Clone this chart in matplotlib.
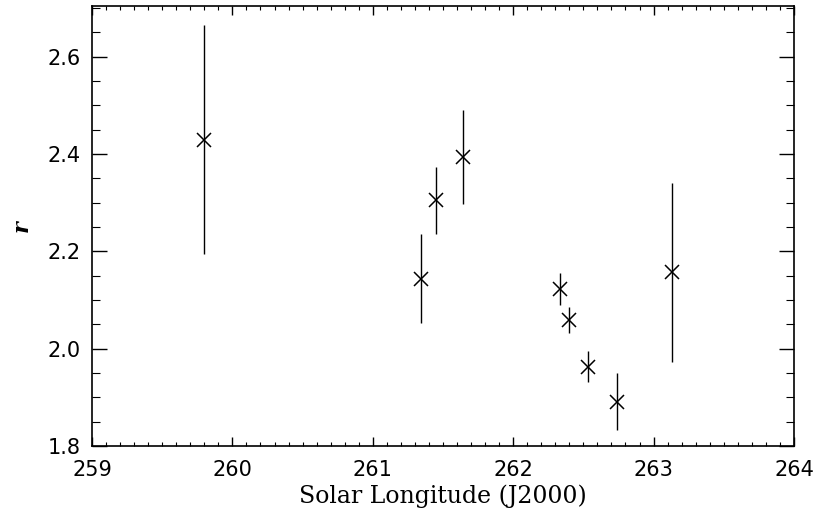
import matplotlib
matplotlib.use('Agg')
import matplotlib.pyplot as plt
from matplotlib.ticker import MultipleLocator

# values
longitude = [259.80, 261.34, 261.45, 261.64, 262.33, 262.40, 262.53, 262.74, 263.13]
r_value = [2.429, 2.144, 2.305, 2.394, 2.122, 2.059, 1.963, 1.891, 2.157]
r_error = [0.235, 0.092, 0.069, 0.097, 0.033, 0.027, 0.032, 0.058, 0.184]

fig = plt.figure(figsize=(8.17, 5.16), dpi=100)
ax = fig.add_axes([0.1126, 0.1357, 0.9718 - 0.1126, 0.9884 - 0.1357])

ax.errorbar(longitude, r_value, yerr=r_error, fmt='x', color='black',
            markersize=10, markeredgewidth=1.1, elinewidth=1.0, capsize=0)

ax.set_xlim(259, 264)
ax.set_ylim(1.8, 2.704)
ax.xaxis.set_major_locator(MultipleLocator(1))
ax.xaxis.set_minor_locator(MultipleLocator(0.1))
ax.yaxis.set_major_locator(MultipleLocator(0.2))
ax.yaxis.set_minor_locator(MultipleLocator(0.05))
ax.yaxis.set_major_formatter(plt.FormatStrFormatter('%.1f'))

ax.tick_params(axis='x', which='major', direction='in', length=6.5, width=1.0,
               top=True, labelsize=15, pad=10)
ax.tick_params(axis='x', which='minor', direction='in', length=3.2, width=0.8, top=True)
ax.tick_params(axis='y', which='major', direction='in', length=10.5, width=1.0,
               right=True, labelsize=15, pad=8)
ax.tick_params(axis='y', which='minor', direction='in', length=5.5, width=0.8, right=True)
for spine in ax.spines.values():
    spine.set_linewidth(1.2)

ax.set_xlabel('Solar Longitude (J2000)', fontsize=17, family='DejaVu Serif', labelpad=3)
ax.set_ylabel('r', fontsize=16, family='DejaVu Serif', style='italic',
              fontweight='bold', labelpad=11)

fig.savefig('out.png', dpi=100)
